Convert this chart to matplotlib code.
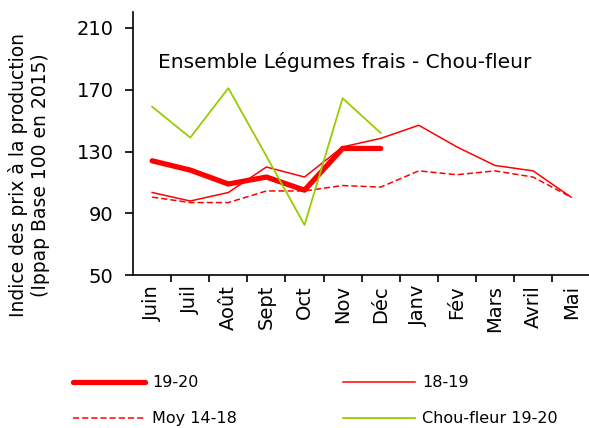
import matplotlib.pyplot as plt

months = ['Juin', 'Juil', 'Août', 'Sept', 'Oct', 'Nov', 'Déc', 'Janv', 'Fév', 'Mars', 'Avril', 'Mai']

serie_1920 = [124, 118, 109, 113.5, 105, 132, 132]
serie_1819 = [103.5, 98, 103.5, 120, 113.5, 133, 138.5, 147, 133, 121, 117.5, 100.5]
moy_1418 = [100.5, 97, 97, 104.5, 104.5, 108, 107, 117.5, 115, 117.5, 113.5, 100.5]
chou_1920 = [159, 139, 171, 127, 82.5, 164.5, 142]

red = '#FF0000'
green = '#99CC00'

fig = plt.figure(figsize=(5.89, 4.28), dpi=100)
ax = fig.add_axes([0.226, 0.357, 0.776, 0.614])

x = range(len(months))
h1, = ax.plot(x[:len(serie_1920)], serie_1920, color=red, lw=3.8, label='19-20', solid_capstyle='round')
h2, = ax.plot(x, serie_1819, color=red, lw=1.1, label='18-19')
h3, = ax.plot(x, moy_1418, color=red, lw=1.1, ls=(0, (4, 2)), label='Moy 14-18')
h4, = ax.plot(x[:len(chou_1920)], chou_1920, color=green, lw=1.3, label='Chou-fleur 19-20')

ax.set_xlim(-0.5, len(months) - 0.5)
ax.set_ylim(50, 220)
ax.set_yticks([50, 90, 130, 170, 210])
# ticks between months, labels on months
ax.set_xticks([i + 0.5 for i in range(len(months))])
ax.set_xticklabels([])
ax.set_xticks(list(x), minor=True)
ax.set_xticklabels(months, minor=True, rotation=90, fontsize=14)
ax.tick_params(axis='x', which='minor', length=0, pad=7)
ax.tick_params(axis='x', which='major', direction='out', length=5, width=1.2)
ax.tick_params(axis='y', direction='out', length=6, width=1.2, labelsize=14, pad=8)
ax.spines['top'].set_visible(False)
ax.spines['right'].set_visible(False)
ax.spines['left'].set_linewidth(1.2)
ax.spines['bottom'].set_linewidth(1.2)

fig.text(29 / 589, 1 - 175 / 428, 'Indice des prix à la production\n(Ippap Base 100 en 2015)',
         rotation=90, ha='center', va='center', fontsize=13.5, linespacing=1.15, multialignment='center')
ax.text(0.055, 0.789, 'Ensemble Légumes frais - Chou-fleur', transform=ax.transAxes,
        fontsize=14.5, va='baseline')

fig.legend([h1, h3, h2, h4], ['19-20', 'Moy 14-18', '18-19', 'Chou-fleur 19-20'],
           ncol=2, frameon=False, loc='upper left', bbox_to_anchor=(59 / 589, 1 - 361 / 428),
           handlelength=4.5, columnspacing=6.6, labelspacing=1.3, fontsize=11.5, handletextpad=0.45)

plt.savefig('out.png', dpi=100)
